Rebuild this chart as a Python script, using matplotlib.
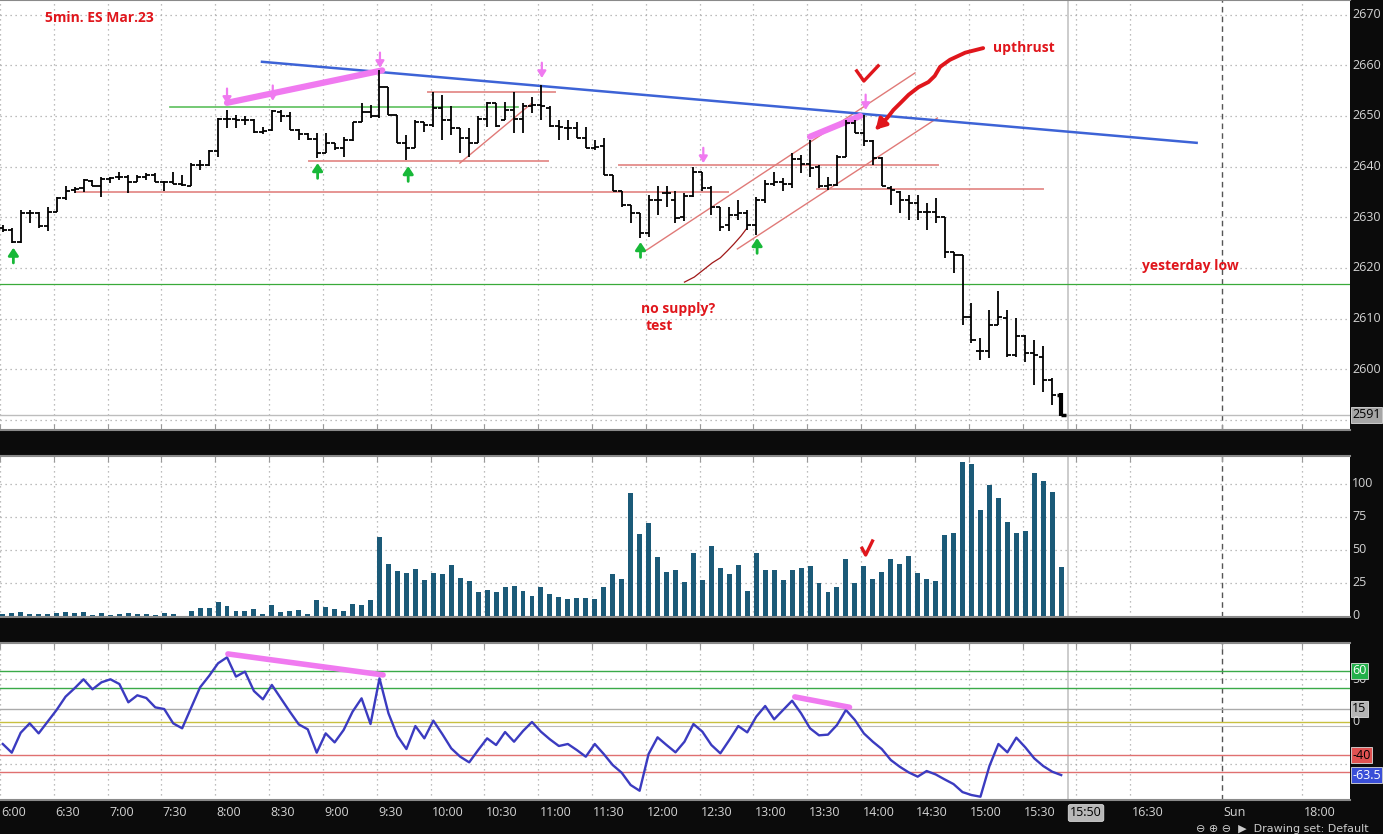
import numpy as np
import matplotlib
matplotlib.use('Agg')
import matplotlib.pyplot as plt

plt.rcParams['font.family'] = ['Open Sans', 'DejaVu Sans']

# 5-min ES bars, 6:00 .. 15:50 (bar index 0..118)
opens = [2627.8, 2627.5, 2625.2, 2630.8, 2630.8, 2628.2, 2631.1, 2633.8, 2635.3, 2635.7,
         2637.2, 2636.1, 2637.6, 2637.9, 2638.0, 2636.9, 2638.0, 2638.3, 2637.0, 2637.0,
         2636.6, 2636.2, 2640.3, 2640.3, 2643.0, 2649.4, 2649.4, 2649.2, 2649.2, 2646.9,
         2647.2, 2650.7, 2650.0, 2647.3, 2646.4, 2645.4, 2642.6, 2644.6, 2643.6, 2645.2,
         2648.9, 2650.8, 2650.0, 2655.8, 2650.2, 2644.6, 2643.6, 2648.9, 2648.2, 2651.5,
         2649.2, 2647.6, 2645.6, 2644.7, 2649.4, 2652.5, 2649.2, 2651.2, 2649.4, 2651.9,
         2652.2, 2651.5, 2648.0, 2647.6, 2647.6, 2645.6, 2643.6, 2644.0, 2638.4, 2635.1,
         2632.5, 2630.8, 2626.9, 2633.4, 2634.7, 2633.4, 2630.0, 2634.2, 2639.0, 2635.7,
         2632.0, 2628.5, 2630.5, 2630.8, 2628.5, 2633.4, 2636.5, 2637.0, 2636.5, 2641.5,
         2640.5, 2640.0, 2636.1, 2636.3, 2642.0, 2648.6, 2646.6, 2645.0, 2641.7, 2635.7,
         2635.0, 2633.4, 2632.8, 2631.1, 2631.1, 2630.1, 2623.2, 2622.6, 2610.4, 2603.5,
         2603.5, 2608.8, 2610.1, 2602.8, 2606.5, 2603.2, 2602.5, 2597.9, 2595.0]
highs = [2628.4, 2627.8, 2631.5, 2631.5, 2631.0, 2632.1, 2634.1, 2636.1, 2636.0, 2637.5,
         2637.4, 2637.9, 2638.0, 2639.0, 2638.4, 2638.4, 2638.7, 2638.7, 2637.2, 2639.0,
         2638.4, 2640.7, 2641.3, 2643.3, 2649.6, 2651.2, 2650.2, 2649.9, 2649.4, 2647.9,
         2651.2, 2651.2, 2650.7, 2647.4, 2646.6, 2646.6, 2646.6, 2644.7, 2645.9, 2648.9,
         2652.5, 2652.2, 2659.1, 2655.8, 2650.2, 2646.3, 2649.2, 2648.9, 2654.8, 2654.1,
         2651.9, 2647.6, 2647.6, 2649.9, 2652.8, 2652.5, 2652.8, 2654.8, 2652.5, 2653.8,
         2656.1, 2651.9, 2649.2, 2649.2, 2648.9, 2647.9, 2645.3, 2645.6, 2638.4, 2635.1,
         2632.5, 2630.8, 2634.4, 2636.1, 2636.1, 2635.1, 2634.7, 2640.0, 2639.0, 2636.1,
         2632.1, 2632.1, 2633.4, 2631.5, 2634.1, 2637.4, 2639.0, 2637.7, 2642.6, 2642.3,
         2645.3, 2640.3, 2638.0, 2642.3, 2649.2, 2649.2, 2650.2, 2645.3, 2642.0, 2636.1,
         2635.1, 2634.4, 2634.4, 2632.8, 2633.8, 2630.1, 2623.2, 2622.6, 2613.0, 2606.1,
         2611.7, 2615.5, 2611.7, 2610.1, 2606.8, 2605.8, 2604.5, 2598.2, 2595.3]
lows = [2627.0, 2624.9, 2625.0, 2628.8, 2627.8, 2627.2, 2631.1, 2633.4, 2634.7, 2635.0,
        2636.1, 2634.1, 2636.7, 2637.4, 2634.7, 2636.9, 2637.4, 2636.9, 2635.1, 2636.6,
        2636.2, 2636.1, 2639.4, 2640.1, 2642.0, 2647.6, 2647.6, 2648.2, 2646.6, 2646.5,
        2647.1, 2648.9, 2647.2, 2645.3, 2645.3, 2641.7, 2642.6, 2643.3, 2642.0, 2645.0,
        2648.8, 2649.6, 2649.6, 2650.2, 2644.6, 2641.3, 2643.6, 2646.9, 2647.9, 2645.3,
        2646.3, 2642.6, 2642.0, 2644.6, 2647.9, 2647.9, 2649.2, 2646.6, 2646.6, 2650.5,
        2649.2, 2647.9, 2645.3, 2645.3, 2645.6, 2643.6, 2643.3, 2638.4, 2635.1, 2632.1,
        2628.8, 2625.9, 2626.2, 2630.5, 2632.1, 2628.8, 2629.2, 2634.1, 2635.1, 2630.5,
        2627.2, 2627.2, 2629.5, 2627.5, 2626.5, 2632.8, 2636.1, 2635.1, 2635.7, 2638.7,
        2638.0, 2635.7, 2635.4, 2636.2, 2642.0, 2646.6, 2644.0, 2640.3, 2636.1, 2632.4,
        2630.8, 2629.5, 2629.5, 2627.5, 2628.8, 2621.9, 2619.0, 2608.8, 2605.1, 2601.9,
        2602.2, 2608.8, 2602.5, 2602.5, 2601.5, 2596.9, 2595.6, 2593.0, 2590.7]
closes = [2627.5, 2625.2, 2630.8, 2630.8, 2628.2, 2631.0, 2633.8, 2635.1, 2635.5, 2637.4,
          2636.1, 2637.5, 2637.7, 2637.9, 2636.9, 2638.0, 2638.3, 2637.0, 2637.0, 2636.6,
          2636.4, 2640.3, 2640.3, 2643.0, 2649.4, 2649.5, 2649.2, 2649.2, 2646.9, 2647.1,
          2650.9, 2650.0, 2647.3, 2646.4, 2645.4, 2642.6, 2644.6, 2643.6, 2645.2, 2648.9,
          2650.8, 2649.9, 2655.8, 2650.2, 2644.6, 2643.6, 2648.9, 2648.2, 2651.5, 2649.2,
          2647.6, 2645.6, 2644.7, 2649.4, 2652.5, 2648.0, 2651.2, 2649.4, 2651.9, 2652.2,
          2651.9, 2648.0, 2647.9, 2647.6, 2645.6, 2643.6, 2643.8, 2638.4, 2635.1, 2632.5,
          2630.8, 2626.9, 2633.4, 2633.4, 2634.7, 2629.8, 2634.2, 2639.0, 2635.7, 2632.0,
          2628.0, 2630.5, 2630.8, 2628.5, 2633.4, 2636.5, 2637.0, 2636.5, 2641.5, 2640.5,
          2639.8, 2636.1, 2636.3, 2641.9, 2648.6, 2646.6, 2645.0, 2641.7, 2636.1, 2635.4,
          2633.4, 2632.8, 2631.1, 2631.1, 2630.1, 2623.2, 2622.6, 2610.4, 2605.8, 2603.5,
          2608.8, 2610.4, 2602.8, 2606.5, 2603.2, 2602.8, 2597.9, 2594.9, 2591.0]
volume = [1.5, 2.3, 3, 1.5, 1.5, 1.5, 2.3, 3, 2.3, 3,
          0.8, 2.3, 0.8, 1.5, 2.3, 1.5, 1.5, 0.8, 2.3, 1.5,
          0.3, 3.8, 6, 6, 10.6, 7.6, 3.8, 3.8, 5.3, 1.5,
          8.3, 3, 3.8, 4.5, 1.5, 12.1, 6.8, 5.3, 3.8, 9.1,
          8.3, 12.1, 59.8, 39.4, 34.1, 32.6, 35.6, 27.3, 32.6, 31.8,
          38.6, 28.8, 26.5, 18.2, 19.7, 18.2, 22, 22.7, 18.9, 15.2,
          22, 16.7, 14.4, 12.9, 13.6, 13.6, 12.9, 22, 31.8, 28,
          93.2, 62.1, 70.5, 44.7, 33.3, 34.8, 25.8, 47.7, 27.3, 53,
          36.4, 31.8, 38.6, 18.9, 47.7, 34.8, 34.8, 27.3, 34.8, 36.4,
          37.9, 25, 18.2, 22, 43.2, 25, 37.9, 28, 33.3, 43.2,
          39.4, 45.5, 32.6, 28, 26.5, 61.4, 62.9, 116.7, 115.2, 80.3,
          99.2, 89.4, 71.2, 62.9, 64.4, 108.3, 102.3, 93.9, 37.1]
osc = [-26.7, -37.0, -13.3, -2.2, -14.1, -0.2, 13.7, 29.5, 39.4, 50.1,
       38.2, 46.5, 50.1, 44.5, 22.8, 31.1, 27.9, 16.8, 14.8, -2.2,
       -8.1, 16.4, 40.6, 54.1, 69.1, 76.2, 53.3, 59.2, 36.2, 26.3,
       43.4, 27.5, 11.7, -3.4, -9.3, -37.0, -14.1, -24.8, -10.1, 11.7,
       27.5, -3.0, 51.3, 9.7, -17.2, -32.7, -5.4, -20.0, 1.0, -14.9,
       -31.9, -41.8, -48.5, -33.9, -20.0, -27.9, -12.5, -24.0, -11.3, -0.6,
       -12.1, -21.2, -29.1, -26.7, -33.9, -41.8, -26.7, -38.6, -51.7, -60.8,
       -75.4, -82.2, -38.6, -18.8, -27.9, -36.6, -24.0, -3.0, -12.1, -27.9,
       -37.8, -22.0, -5.4, -12.9, 5.7, 18.4, 2.6, 13.7, 24.7, 9.7,
       -8.1, -16.4, -15.6, -4.2, 13.7, 1.8, -14.1, -24.0, -32.7, -45.7,
       -53.7, -60.4, -65.5, -58.8, -62.8, -68.7, -74.3, -83.8, -87.3, -89.3,
       -52.9, -26.7, -36.6, -19.2, -30.7, -43.8, -52.9, -59.6, -63.6]

time_labels = ['6:00', '6:30', '7:00', '7:30', '8:00', '8:30', '9:00', '9:30', '10:00',
               '10:30', '11:00', '11:30', '12:00', '12:30', '13:00', '13:30', '14:00',
               '14:30', '15:00', '15:30', '16:00', '16:30', 'Sun', '18:00']
time_ticks = [6 * i - 0.31 for i in range(22)] + [135.9, 144.9]
price_ticks = [2590, 2600, 2610, 2620, 2630, 2640, 2650, 2660, 2670]
vol_ticks = [0, 25, 50, 75, 100]
yesterday_low = 2616.8
cursor_x = 118.8

# hand drawn studies (bar index, price)
blue_trend = ([28.9, 133.1], [2660.7, 2644.7])
pink_price = [([25.0, 42.3], [2652.6, 2659.0]), ([90.0, 95.6], [2645.9, 2650.0])]
pink_osc = [([25.1, 42.4], [80.2, 55.3]), ([88.3, 94.4], [29.2, 16.9])]
green_level = (18.6, 57.4, 2651.7)
red_levels = [(8.2, 80.8, 2635.0), (34.1, 60.8, 2641.2), (47.4, 61.6, 2654.8),
              (68.7, 104.3, 2640.4), (90.8, 116.0, 2635.5)]
red_diag = [([50.96, 58.9], [2640.7, 2652.4]), ([71.67, 101.7], [2623.4, 2658.5]),
            ([81.9, 104.2], [2623.75, 2649.6])]
nosupply_x = [76.0, 77.1, 78.1, 79.1, 80.0, 80.8, 81.5, 82.3, 82.9]
nosupply_y = [2617.2, 2618.2, 2619.6, 2621.0, 2622.0, 2623.4, 2624.7, 2626.3, 2627.7]
upthrust_x = [109.3, 107.3, 105.6, 104.5, 103.9, 103.2, 102.1, 101.0, 100.1, 99.3, 98.6, 97.8, 97.1]
upthrust_y = [2663.4, 2662.5, 2661.1, 2659.7, 2657.9, 2656.7, 2655.7, 2654.2, 2652.6,
              2651.2, 2649.6, 2648.2, 2646.9]
check_price = ([95.2, 96.0, 97.6], [2658.9, 2656.9, 2659.9])
check_vol = ([95.8, 96.2, 96.96], [51.3, 46.2, 56.8])
green_arrows = [(1.18, 2624.0), (35.1, 2640.7), (45.2, 2640.1), (71.1, 2625.1), (84.1, 2625.9)]
pink_arrows = [(25.0, 2652.4), (30.1, 2653.0), (42.05, 2659.5), (60.1, 2657.5), (78.1, 2640.7), (96.2, 2651.2)]

RED = '#e0161c'
PINK = '#f07af0'
LBL = '#d4d4d4'
W, H = 1383, 834


def px_rect(x0, y0, x1, y1):
    return [x0 / W, 1 - y1 / H, (x1 - x0) / W, (y1 - y0) / H]


def setup(ax, top_ticks):
    ax.set_facecolor('white')
    ax.set_xlim(-0.156, 150.2)
    ax.set_yticks([])
    ax.set_xticks(time_ticks)
    ax.tick_params(axis='x', direction='in', length=4, color='#999999',
                   bottom=not top_ticks, top=top_ticks, labelbottom=False)
    for s in ['left', 'right']:
        ax.spines[s].set_visible(False)
    for s in ['top', 'bottom']:
        ax.spines[s].set_color('#8a8a8a')
        ax.spines[s].set_linewidth(1.5)
    for t in time_ticks:
        if t == 135.9:
            ax.axvline(t, color='#555555', lw=1, ls=(0, (4, 3)), zorder=1)
        else:
            ax.axvline(t, color='#a8a8a8', lw=0.9, ls=(0, (1, 3)), zorder=1)
    ax.axvline(cursor_x, color='#c4c4c4', lw=1.2, zorder=1)


def rlabel(ax, y, s, fc=None, tc=LBL):
    box = None
    if fc is not None:
        box = dict(boxstyle='square,pad=0.12', fc=fc, ec='#dddddd', lw=0.6)
    ax.text(1.0015, y, s, transform=ax.get_yaxis_transform(), ha='left', va='center',
            fontsize=9, color=tc, bbox=box, clip_on=False, zorder=10)


fig = plt.figure(figsize=(13.83, 8.34), dpi=100)
fig.patch.set_facecolor('#0b0b0b')

ax_p = fig.add_axes(px_rect(0, 0, 1350, 430))
ax_v = fig.add_axes(px_rect(0, 456, 1350, 617))
ax_o = fig.add_axes(px_rect(0, 643, 1350, 800))
setup(ax_p, False)
setup(ax_v, True)
setup(ax_o, True)

# price panel
x = np.arange(len(closes))
ax_p.set_ylim(2588.0, 2672.9)
for p in price_ticks:
    ax_p.axhline(p, color='#a8a8a8', lw=0.9, ls=(0, (1, 3)), zorder=1)
ax_p.axhline(yesterday_low, color='#3aaa3a', lw=0.9, zorder=2)
ax_p.axhline(closes[-1], color='#bdbdbd', lw=1, zorder=2)

for lv in red_levels:
    ax_p.plot([lv[0], lv[1]], [lv[2], lv[2]], color='#e07a78', lw=1.4, alpha=0.8, zorder=3)
for dx, dy in red_diag:
    ax_p.plot(dx, dy, color='#e07a78', lw=1.0, zorder=3)
ax_p.plot([green_level[0], green_level[1]], [green_level[2]] * 2, color='#5cc05c', lw=1.2, zorder=3)
ax_p.plot(nosupply_x, nosupply_y, color='#a01818', lw=0.9, zorder=3)
ax_p.plot(blue_trend[0], blue_trend[1], color='#3d63d6', lw=1.8, zorder=4)
for dx, dy in pink_price:
    ax_p.plot(dx, dy, color=PINK, lw=4.5, solid_capstyle='round', zorder=5)

ax_p.vlines(x[:-1], lows[:-1], highs[:-1], color='black', lw=1.3, zorder=6)
ax_p.hlines(opens[:-1], x[:-1] - 0.45, x[:-1], color='black', lw=1.3, zorder=6)
ax_p.hlines(closes[:-1], x[:-1], x[:-1] + 0.45, color='black', lw=1.3, zorder=6)
ax_p.vlines(x[-1], lows[-1], highs[-1], color='black', lw=3, zorder=6)
ax_p.hlines(opens[-1], x[-1] - 0.45, x[-1], color='black', lw=2.5, zorder=6)
ax_p.hlines(closes[-1], x[-1], x[-1] + 0.5, color='black', lw=2.5, zorder=6)

for ax_, ay in green_arrows:
    ax_p.annotate('', xy=(ax_, ay), xytext=(0, -11), textcoords='offset points',
                  arrowprops=dict(arrowstyle='-|>,head_width=0.3,head_length=0.45',
                                  color='#18b838', lw=2, shrinkA=0, shrinkB=0), zorder=7)
for ax_, ay in pink_arrows:
    ax_p.annotate('', xy=(ax_, ay), xytext=(0, 11), textcoords='offset points',
                  arrowprops=dict(arrowstyle='-|>,head_width=0.25,head_length=0.4',
                                  color=PINK, lw=1.6, shrinkA=0, shrinkB=0), zorder=7)

ax_p.plot(upthrust_x[:-1], upthrust_y[:-1], color=RED, lw=2.8, solid_capstyle='round', zorder=7)
ax_p.annotate('', xy=(upthrust_x[-1], upthrust_y[-1]), xytext=(upthrust_x[-2], upthrust_y[-2]),
              arrowprops=dict(arrowstyle='-|>,head_width=0.35,head_length=0.6', color=RED, lw=2.8),
              zorder=7)
ax_p.plot(check_price[0], check_price[1], color=RED, lw=2.4, zorder=7)

txt = dict(color=RED, fontsize=10, fontweight='bold', va='center', ha='left', zorder=8)
ax_p.text(4.75, 2669.4, '5min. ES Mar.23', **txt)
ax_p.text(110.4, 2663.4, 'upthrust', **txt)
ax_p.text(127.0, 2620.4, 'yesterday low', **txt)
ax_p.text(71.2, 2611.9, 'no supply?', **txt)
ax_p.text(71.7, 2608.5, 'test', **txt)

for p in price_ticks:
    rlabel(ax_p, p, str(p))
rlabel(ax_p, closes[-1], '2591', fc='#a6a6a6', tc='black')

# volume panel
ax_v.set_ylim(-0.76, 121.2)
for v in vol_ticks[1:]:
    ax_v.axhline(v, color='#a8a8a8', lw=0.9, ls=(0, (1, 3)), zorder=1)
ax_v.bar(x, volume, width=0.55, color='#1b5a78', zorder=3)
ax_v.plot(check_vol[0], check_vol[1], color=RED, lw=2.4, zorder=5)
for v in vol_ticks:
    rlabel(ax_v, v, str(v))

# oscillator panel
ax_o.set_ylim(-93.2, 93.2)
for v in [50, -50]:
    ax_o.axhline(v, color='#a8a8a8', lw=0.9, ls=(0, (1, 3)), zorder=1)
ax_o.axhline(60, color='#3aaa48', lw=1, zorder=2)
ax_o.axhline(40, color='#3aaa48', lw=1, zorder=2)
ax_o.axhline(15, color='#aaaaaa', lw=1, zorder=2)
ax_o.axhline(0, color='#c8c040', lw=1, zorder=2)
ax_o.axhline(-5, color='#bbbbbb', lw=0.8, zorder=2)
ax_o.axhline(-40, color='#e07070', lw=1, zorder=2)
ax_o.axhline(-60, color='#e07070', lw=1, zorder=2)
ax_o.plot(x, osc, color='#3b3bc0', lw=1.7, zorder=4)
for dx, dy in pink_osc:
    ax_o.plot(dx, dy, color=PINK, lw=4, solid_capstyle='round', zorder=5)

rlabel(ax_o, 50, '50')
rlabel(ax_o, 60, '60', fc='#22b04a', tc='white')
rlabel(ax_o, 15, '15', fc='#b4b4b4', tc='black')
rlabel(ax_o, 0, '0')
rlabel(ax_o, -40, '-40', fc='#e05252', tc='black')
rlabel(ax_o, osc[-1], '-63.5', fc='#3a4fd8', tc='white')

# time axis labels
xt = ax_o.get_xaxis_transform()
for t, lab in zip(time_ticks, time_labels):
    if lab == '16:00':
        continue
    ax_o.text(t + 0.15, -13 / 157, lab, transform=xt, ha='left', va='center',
              fontsize=9, color=LBL, clip_on=False)
ax_o.text(cursor_x + 0.2, -13 / 157, '15:50', transform=xt, ha='left', va='center',
          fontsize=9, color='black', clip_on=False,
          bbox=dict(boxstyle='round,pad=0.15', fc='#b8b8b8', ec='#dddddd', lw=0.6))

fig.text(1196 / W, 1 - 829 / H, '\u2296 \u2295 \u2296  \u25b6  Drawing set: Default', fontsize=8,
         color='#cccccc', va='center', ha='left', family=['DejaVu Sans'])

fig.savefig('out.png', dpi=100, facecolor=fig.get_facecolor())
plt.close(fig)
